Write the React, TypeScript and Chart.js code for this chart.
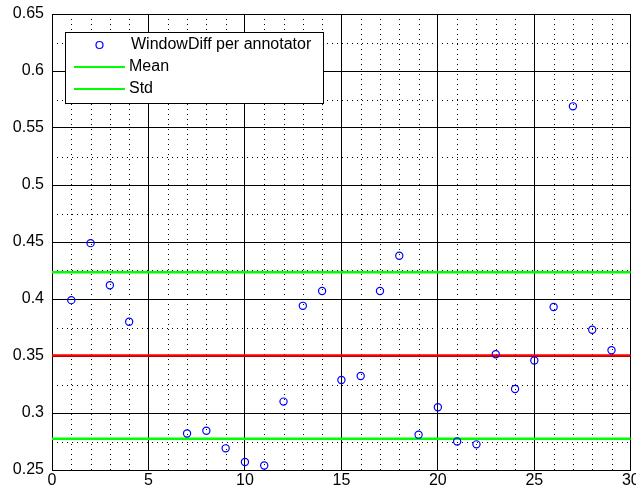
import React, { useEffect, useRef } from 'react';
import { Chart, registerables } from 'chart.js';

Chart.register(...registerables);

const annotators = [1, 2, 3, 4, 7, 8, 9, 10, 11, 12, 13, 14, 15, 16, 17, 18, 19, 20, 21, 22, 23, 24, 25, 26, 27, 28, 29];
const windowDiff = [0.399, 0.449, 0.412, 0.380, 0.282, 0.2845, 0.269, 0.257, 0.254, 0.310, 0.394, 0.407, 0.329, 0.3325, 0.407, 0.438, 0.281, 0.305, 0.275, 0.2725, 0.3515, 0.321, 0.346, 0.393, 0.569, 0.373, 0.355];
const meanValue = 0.3505;
const stdValue = 0.073;
const xRange = [0, 30];
const yRange = [0.25, 0.65];
const seriesLabel = 'WindowDiff per annotator';
const meanLabel = 'Mean';
const stdLabel = 'Std';

const FONT = '"Liberation Sans", Arial, sans-serif';

const minorGridPlugin = {
  id: 'minorGrid',
  beforeDatasetsDraw(chart: any) {
    const { ctx, chartArea, scales } = chart;
    const xs = scales.x;
    const ys = scales.y;
    ctx.save();
    ctx.strokeStyle = '#000';
    ctx.lineWidth = 1;
    ctx.setLineDash([1, 4]);
    for (let v = xRange[0]; v <= xRange[1]; v += 1) {
      if (v % 5 === 0) continue;
      const px = Math.round(xs.getPixelForValue(v)) + 0.5;
      ctx.beginPath();
      ctx.moveTo(px, chartArea.top);
      ctx.lineTo(px, chartArea.bottom);
      ctx.stroke();
    }
    for (let i = 1; i < 16; i += 2) {
      const v = yRange[0] + i * 0.025;
      const py = Math.round(ys.getPixelForValue(v)) + 0.5;
      ctx.beginPath();
      ctx.moveTo(chartArea.left, py);
      ctx.lineTo(chartArea.right, py);
      ctx.stroke();
    }
    ctx.restore();
  },
};

const legendPlugin = {
  id: 'matlabLegend',
  afterDraw(chart: any) {
    const { ctx } = chart;
    const items = [
      { label: seriesLabel, kind: 'marker', color: '#0000ff' },
      { label: meanLabel, kind: 'line', color: '#00ff00' },
      { label: stdLabel, kind: 'line', color: '#00ff00' },
    ];
    const bx = 65.5, by = 32.5, bw = 258, bh = 71;
    ctx.save();
    ctx.fillStyle = '#fff';
    ctx.fillRect(bx, by, bw, bh);
    ctx.strokeStyle = '#000';
    ctx.lineWidth = 1;
    ctx.strokeRect(bx, by, bw, bh);
    ctx.font = `16px ${FONT}`;
    ctx.textBaseline = 'middle';
    ctx.fillStyle = '#000';
    const rows = [45, 67, 89];
    items.forEach((it, i) => {
      const y = rows[i];
      if (it.kind === 'marker') {
        ctx.strokeStyle = it.color;
        ctx.lineWidth = 1.2;
        ctx.beginPath();
        ctx.arc(99.5, y, 3.5, 0, Math.PI * 2);
        ctx.stroke();
        ctx.fillStyle = '#000';
        ctx.fillText(it.label, 131, y);
      } else {
        ctx.strokeStyle = it.color;
        ctx.lineWidth = 2;
        ctx.beginPath();
        ctx.moveTo(74, y);
        ctx.lineTo(125, y);
        ctx.stroke();
        ctx.fillStyle = '#000';
        ctx.fillText(it.label, 129, y);
      }
    });
    ctx.restore();
  },
};

export default function App() {
  const ref = useRef<HTMLCanvasElement | null>(null);

  useEffect(() => {
    document.body.style.margin = '0';
    const canvas = ref.current;
    if (!canvas) return;
    const points = annotators.map((a, i) => ({ x: a, y: windowDiff[i] }));
    const hline = (v: number) => [
      { x: xRange[0], y: v },
      { x: xRange[1], y: v },
    ];
    const chart = new Chart(canvas, {
      type: 'scatter',
      data: {
        datasets: [
          {
            label: seriesLabel,
            data: points,
            pointStyle: 'circle',
            pointRadius: 3.6,
            pointBorderWidth: 1.2,
            pointBorderColor: '#0000ff',
            pointBackgroundColor: 'rgba(0,0,0,0)',
            showLine: false,
          },
          {
            label: meanLabel,
            data: hline(meanValue),
            showLine: true,
            borderColor: '#ff0000',
            borderWidth: 2.5,
            pointRadius: 0,
          },
          {
            label: stdLabel,
            data: hline(meanValue + stdValue),
            showLine: true,
            borderColor: '#00ff00',
            borderWidth: 2.5,
            pointRadius: 0,
          },
          {
            label: stdLabel,
            data: hline(meanValue - stdValue),
            showLine: true,
            borderColor: '#00ff00',
            borderWidth: 2.5,
            pointRadius: 0,
          },
        ],
      },
      options: {
        animation: false,
        responsive: false,
        maintainAspectRatio: false,
        layout: { padding: { top: 14, right: 5, left: 0, bottom: 0 } },
        plugins: {
          legend: { display: false },
          tooltip: { enabled: false },
        },
        scales: {
          x: {
            type: 'linear',
            min: xRange[0],
            max: xRange[1],
            ticks: {
              stepSize: 5,
              color: '#000',
              font: { family: FONT, size: 16 },
              padding: 1,
              maxRotation: 0,
            },
            grid: { color: '#000', lineWidth: 1, drawTicks: false },
            border: { display: true, color: '#000', width: 1 },
            afterFit: (s: any) => {
              s.height = 23;
              s.paddingLeft = 0;
              s.paddingRight = 0;
            },
          },
          y: {
            type: 'linear',
            min: yRange[0],
            max: yRange[1],
            ticks: {
              stepSize: 0.05,
              color: '#000',
              font: { family: FONT, size: 16 },
              padding: 8,
              callback: (v: any) => String(Math.round(Number(v) * 100) / 100),
            },
            grid: { color: '#000', lineWidth: 1, drawTicks: false },
            border: { display: true, color: '#000', width: 1 },
            afterFit: (s: any) => {
              s.width = 52;
              s.paddingTop = 0;
              s.paddingBottom = 0;
            },
          },
        },
      },
      plugins: [minorGridPlugin, legendPlugin],
    } as any);
    return () => chart.destroy();
  }, []);

  return <canvas ref={ref} width={636} height={493} style={{ display: 'block', width: 636, height: 493 }} />;
}
